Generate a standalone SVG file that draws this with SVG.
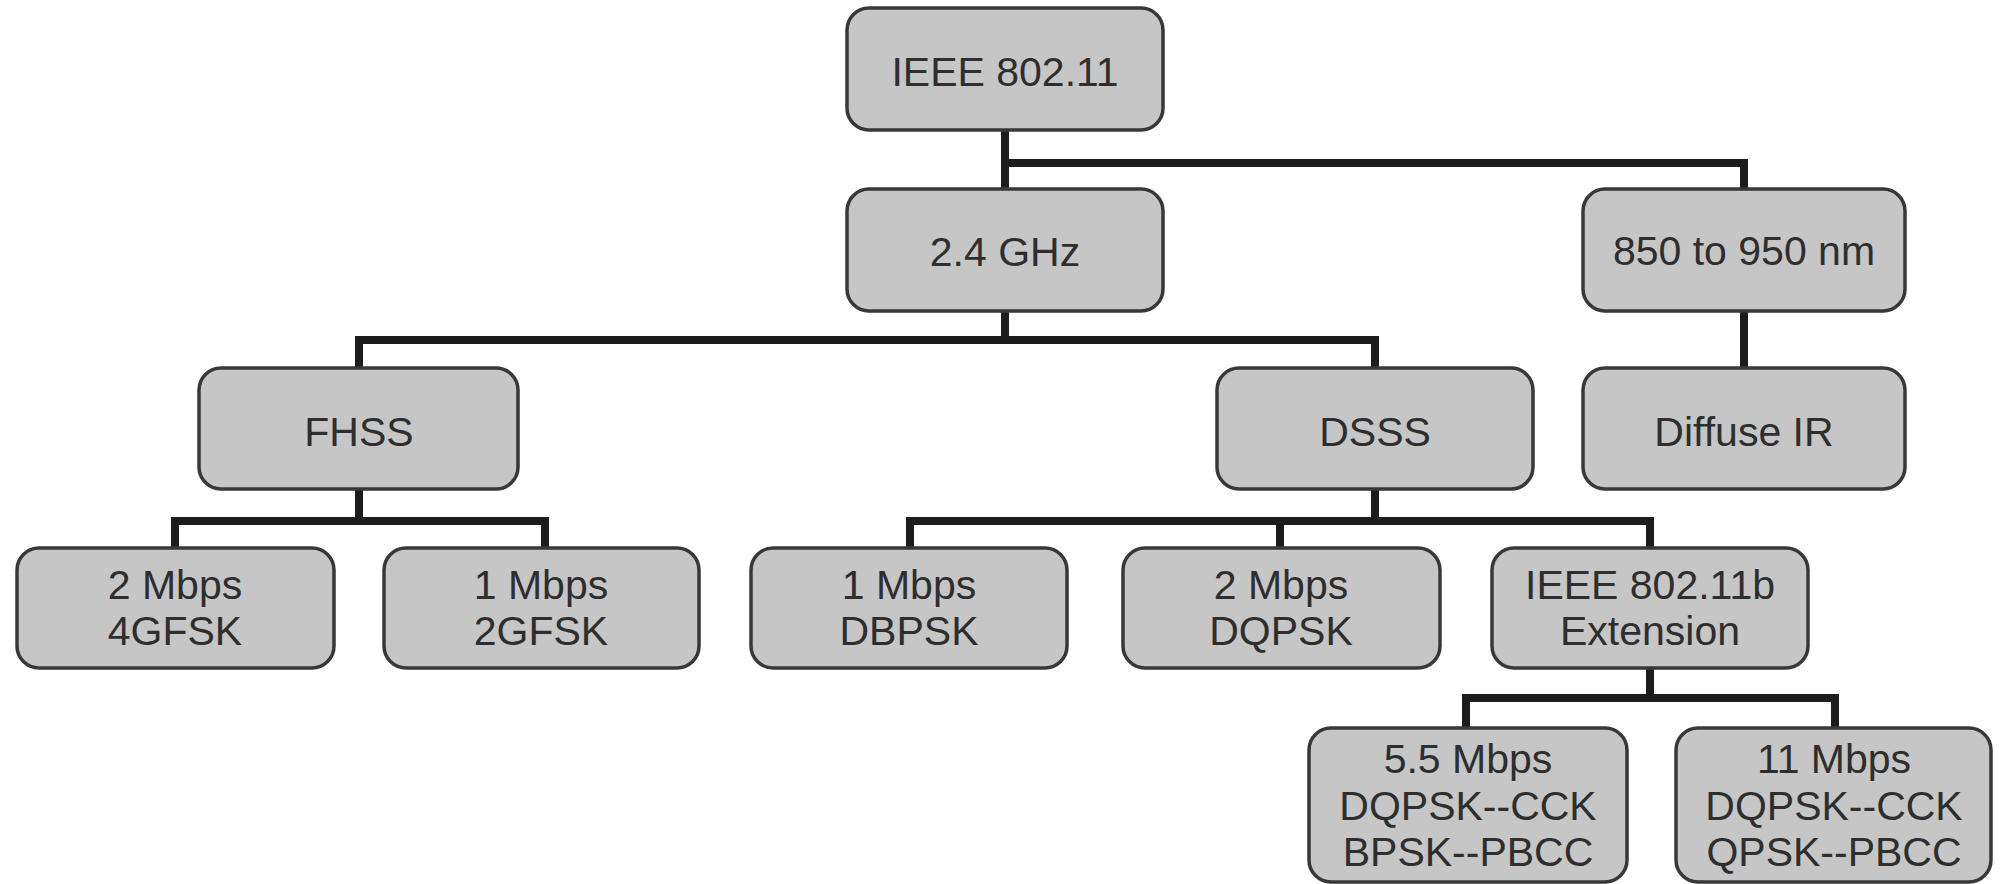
<svg xmlns="http://www.w3.org/2000/svg" width="2009" height="884" viewBox="0 0 2009 884">
  <style>
    .box { fill: #c6c6c6; stroke: #383838; stroke-width: 3.5; }
    .lbl { font-family: "Liberation Sans", Arial, sans-serif; font-size: 41px; fill: #2e2e2e; text-anchor: middle; }
    .wire { fill: none; stroke: #1c1c1c; stroke-width: 8; stroke-linejoin: miter; stroke-linecap: butt; }
  </style>
  <rect x="0" y="0" width="2009" height="884" fill="#ffffff"/>
  <g id="connectors">
    <path class="wire" d="M1005,130 V189 M1005,163 H1744 V189"/>
    <path class="wire" d="M1744,311 V368"/>
    <path class="wire" d="M1005,311 V340 M359,368 V340 H1375 V368"/>
    <path class="wire" d="M359,489 V521 M175,548 V521 H545 V548"/>
    <path class="wire" d="M1375,489 V521 M910,548 V521 H1650 V548 M1280,521 V548"/>
    <path class="wire" d="M1650,668 V698 M1466,728 V698 H1835 V728"/>
  </g>
  <g id="n-ieee80211">
    <rect class="box" x="847" y="8" width="316" height="122" rx="22"/>
    <text class="lbl" x="1005" y="86">IEEE 802.11</text>
  </g>
  <g id="n-24ghz">
    <rect class="box" x="847" y="189" width="316" height="122" rx="22"/>
    <text class="lbl" x="1005" y="266">2.4 GHz</text>
  </g>
  <g id="n-850nm">
    <rect class="box" x="1583" y="189" width="322" height="122" rx="22"/>
    <text class="lbl" x="1744" y="265">850 to 950 nm</text>
  </g>
  <g id="n-fhss">
    <rect class="box" x="199" y="368" width="319" height="121" rx="22"/>
    <text class="lbl" x="359" y="446">FHSS</text>
  </g>
  <g id="n-dsss">
    <rect class="box" x="1217" y="368" width="316" height="121" rx="22"/>
    <text class="lbl" x="1375" y="446">DSSS</text>
  </g>
  <g id="n-diffuse">
    <rect class="box" x="1583" y="368" width="322" height="121" rx="22"/>
    <text class="lbl" x="1744" y="446">Diffuse IR</text>
  </g>
  <g id="n-2mbps-4gfsk">
    <rect class="box" x="17" y="548" width="317" height="120" rx="22"/>
    <text class="lbl" x="175" y="599">2 Mbps</text>
    <text class="lbl" x="175" y="645">4GFSK</text>
  </g>
  <g id="n-1mbps-2gfsk">
    <rect class="box" x="384" y="548" width="315" height="120" rx="22"/>
    <text class="lbl" x="541" y="599">1 Mbps</text>
    <text class="lbl" x="541" y="645">2GFSK</text>
  </g>
  <g id="n-1mbps-dbpsk">
    <rect class="box" x="751" y="548" width="316" height="120" rx="22"/>
    <text class="lbl" x="909" y="599">1 Mbps</text>
    <text class="lbl" x="909" y="645">DBPSK</text>
  </g>
  <g id="n-2mbps-dqpsk">
    <rect class="box" x="1123" y="548" width="317" height="120" rx="22"/>
    <text class="lbl" x="1281" y="599">2 Mbps</text>
    <text class="lbl" x="1281" y="645">DQPSK</text>
  </g>
  <g id="n-80211b">
    <rect class="box" x="1492" y="548" width="316" height="120" rx="22"/>
    <text class="lbl" x="1650" y="599">IEEE 802.11b</text>
    <text class="lbl" x="1650" y="645">Extension</text>
  </g>
  <g id="n-55mbps">
    <rect class="box" x="1309" y="728" width="318" height="154" rx="22"/>
    <text class="lbl" x="1468" y="773">5.5 Mbps</text>
    <text class="lbl" x="1468" y="820">DQPSK--CCK</text>
    <text class="lbl" x="1468" y="866">BPSK--PBCC</text>
  </g>
  <g id="n-11mbps">
    <rect class="box" x="1676" y="728" width="315" height="154" rx="22"/>
    <text class="lbl" x="1834" y="773">11 Mbps</text>
    <text class="lbl" x="1834" y="820">DQPSK--CCK</text>
    <text class="lbl" x="1834" y="866">QPSK--PBCC</text>
  </g>
</svg>
